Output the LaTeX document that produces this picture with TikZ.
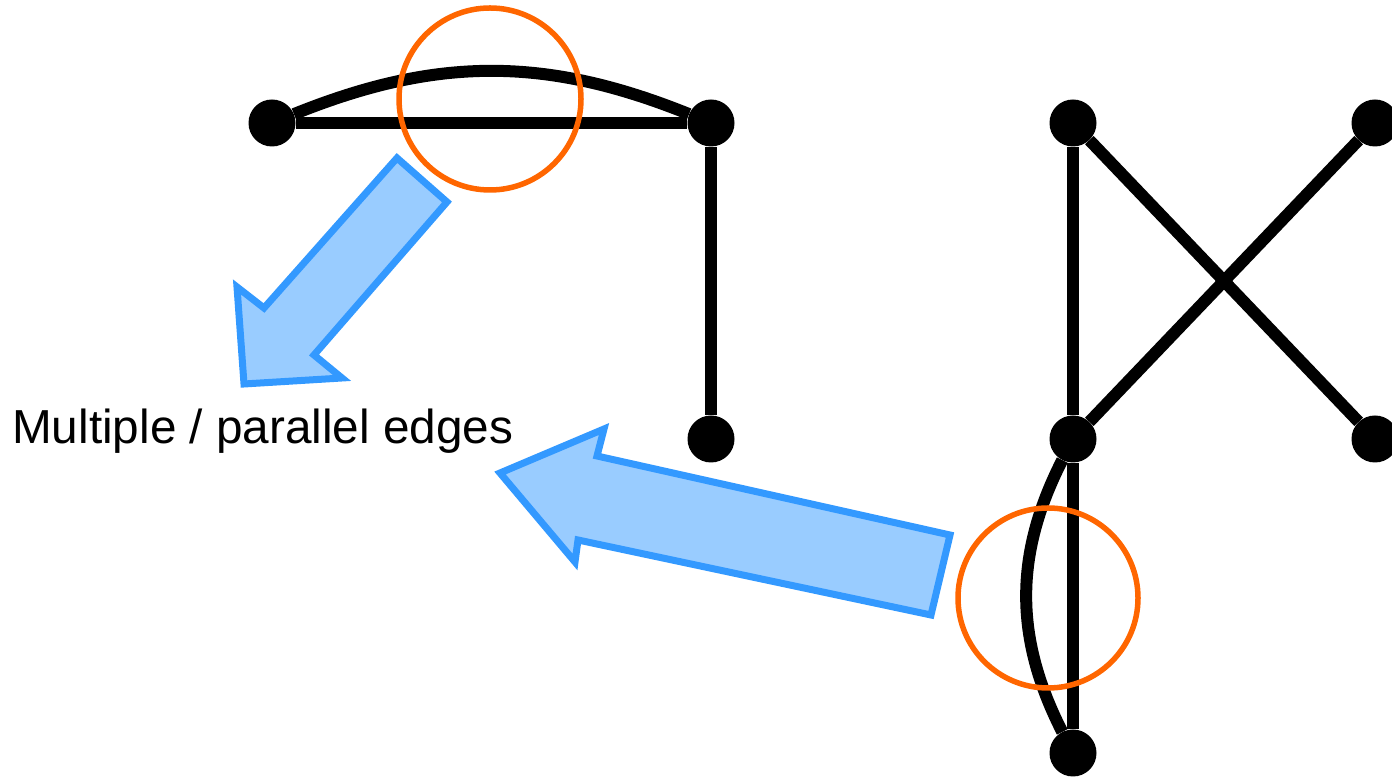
\documentclass[tikz,border=0pt]{standalone}
\usepackage{fontspec}
\setmainfont{Liberation Sans}
\definecolor{ringorange}{HTML}{FF6600}
\definecolor{arrowfill}{HTML}{99CCFF}
\definecolor{arrowline}{HTML}{3399FF}
\begin{document}
\begin{tikzpicture}[x=1pt,y=1pt,
  vertex/.style={circle,fill=black,inner sep=0pt,minimum size=47pt},
  edge/.style={draw=black,line width=12pt},
  ring/.style={draw=ringorange,line width=5.5pt},
  bigarrow/.style={draw=arrowline,fill=arrowfill,line width=7pt,line join=miter},
  label/.style={font=\fontsize{47.7}{57}\selectfont,anchor=base west,inner sep=0pt}]
\useasboundingbox (0,0) rectangle (1392,778);
% vertices
\node[vertex] (A) at (272,655) {};
\node[vertex] (B) at (711,655) {};
\node[vertex] (C) at (711,339) {};
\node[vertex] (D) at (1073,655) {};
\node[vertex] (E) at (1375,655) {};
\node[vertex] (F) at (1073,339) {};
\node[vertex] (G) at (1375,339) {};
\node[vertex] (H) at (1073,25) {};
% edges
\draw[edge] (A) -- (B);
\draw[edge] (A) to[bend left=22] (B);
\draw[edge] (B) -- (C);
\draw[edge] (D) -- (F);
\draw[edge] (D) -- (G);
\draw[edge] (E) -- (F);
\draw[edge] (F) -- (H);
\draw[edge] (F) to[bend right=27] (H);
% rings
\node[ring,circle,minimum size=182pt,inner sep=0pt] (R1) at (490,679) {};
\node[ring,circle,minimum size=180pt,inner sep=0pt] (R2) at (1048,180) {};
% big arrows
\draw[bigarrow] (397,620) -- (447,576) -- (314,423) -- (342,400) -- (244,394) -- (237,491) -- (264,470) -- cycle;
\draw[bigarrow] (500,305) -- (604,349) -- (597,322) -- (950,243) -- (931,163) -- (578,238) -- (575,216) -- cycle;
% label
\node[label] (T) at (12,334) {Multiple / parallel edges};
\end{tikzpicture}
\end{document}
